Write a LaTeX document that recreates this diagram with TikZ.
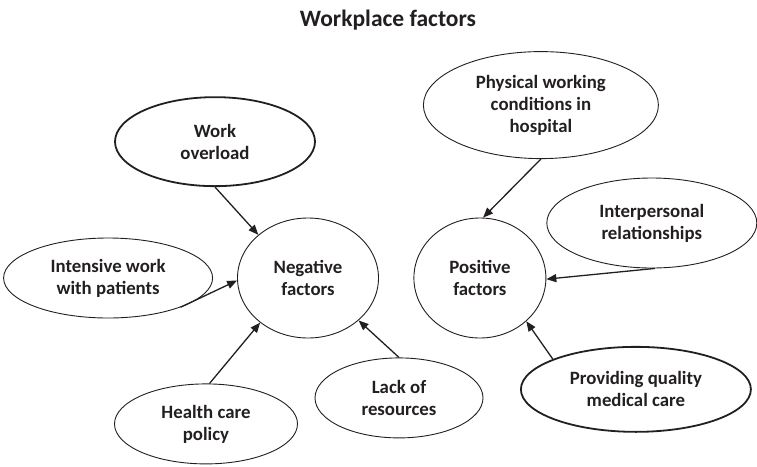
\documentclass[tikz,border=0pt]{standalone}
\usepackage{fontspec}
\setmainfont{Carlito}
\usepackage{tikz}
\usetikzlibrary{arrows.meta,shapes.geometric,positioning}
\definecolor{ink}{RGB}{35,31,32}
\tikzset{FAC style/.style={>={Triangle[length=10pt,width=8pt]},
	every node/.style={text=ink,font=\bfseries\fontsize{18.8}{22}\selectfont,align=center},
	factor/.style={ellipse,draw=ink,line width=0.9pt,inner sep=0pt},
	key factor/.style={factor,line width=1.8pt},
	link/.style={->,draw=ink,line width=1.3pt}}}

\begin{document}
\begin{tikzpicture}[FAC style,x=1pt,y=1pt]
	\useasboundingbox (0,0) rectangle (757,-466);

	\node[font=\bfseries\fontsize{23.5}{27}\selectfont] (title) at (388,-20) {Workplace factors};

	% the two groups
	\node[factor, minimum width=141pt, minimum height=120pt] (neg) at (308,-278) {Negative\\factors};
	\node[factor, minimum width=132pt, minimum height=120pt] [right = 34.5pt of neg] (pos) {Positive\\factors};

	% negative side
	\node[key factor, minimum width=200pt, minimum height=89pt] [above = 30.5pt of neg, xshift=-93pt] (over) {Work\\overload};
	\node[factor, minimum width=209pt, minimum height=80pt] [left = 24pt of neg] (intens) {Intensive work\\with patients};
	\node[factor, minimum width=183pt, minimum height=80pt] [below = 45pt of neg, xshift=-102pt] (policy) {Health care\\policy};
	\node[factor, minimum width=168pt, minimum height=80pt] [below = 19pt of neg, xshift=91pt] (lack) {Lack of\\resources};

	% positive side
	\node[factor, minimum width=235pt, minimum height=107pt] [above = 58.5pt of pos, xshift=61pt] (phys) {Physical working\\conditions in\\hospital};
	\node[factor, minimum width=210pt, minimum height=90pt] [right = 0pt of pos, yshift=55pt] (inter) {Interpersonal\\relationships};
	\node[key factor, minimum width=230pt, minimum height=85pt] [below = 7.5pt of pos, xshift=156pt] (care) {Providing quality\\medical care};

	\draw[link] (over.south) -- (neg.139);
	\draw[link] (intens.-22) -- (neg.182);
	\draw[link] (policy.85) -- (neg.223);
	\draw[link] (lack.north) -- (neg.320);
	\draw[link] (phys.south) -- (pos.87);
	\draw[link] (inter.-86) -- (pos.-1);
	\draw[link] (care.160) -- (pos.-43);

\end{tikzpicture}
\end{document}
